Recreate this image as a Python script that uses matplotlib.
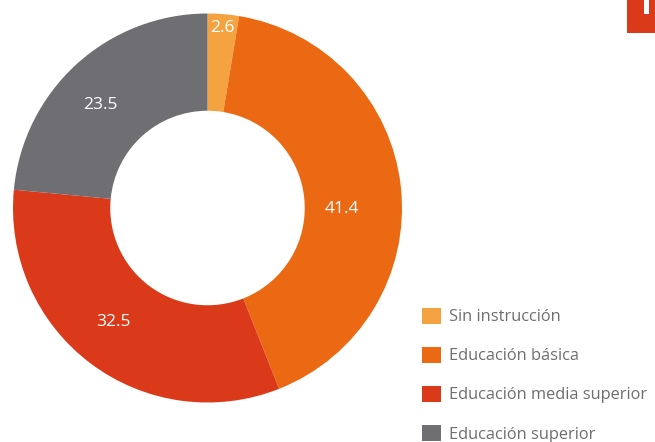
import numpy as np
import matplotlib.pyplot as plt
from matplotlib.patches import Rectangle

plt.rcParams['font.family'] = ['Open Sans', 'DejaVu Sans']

# Data
categories = ['Sin instrucción', 'Educación básica', 'Educación media superior', 'Educación superior']
values = [2.6, 41.4, 32.5, 23.5]
labels = ['2.6', '41.4', '32.5', '23.5']
colors = ['#F5A241', '#EB6912', '#DB3A1A', '#6F6E72']

# label placement (radius as fraction of outer radius, clockwise angle shift in deg)
label_radius = [0.93, 0.69, 0.76, 0.765]
label_shift = [0, 6.5, 2.8, -3.9]

W, H = 655, 442
fig = plt.figure(figsize=(W / 100, H / 100), dpi=100)

# donut axes, centre ~ (207.5, 208) px, outer radius ~194.5 px
cx, cy, r = 207.5, 208, 194.5
ax = fig.add_axes([(cx - r) / W, (H - cy - r) / H, 2 * r / W, 2 * r / H])
wedges, _ = ax.pie(values, colors=colors, startangle=90, counterclock=False,
                   radius=1.0, wedgeprops=dict(width=0.5, linewidth=0))
ax.set_xlim(-1, 1)
ax.set_ylim(-1, 1)
ax.set_aspect('equal')
ax.axis('off')

for w, lab, rr, sh in zip(wedges, labels, label_radius, label_shift):
    ang = np.deg2rad((w.theta1 + w.theta2) / 2 - sh)
    ax.text(rr * np.cos(ang), rr * np.sin(ang), lab, color='white',
            fontsize=12.5, ha='center', va='center')

# legend
handles = [Rectangle((0, 0), 1, 1, facecolor=c, edgecolor='none') for c in colors]
leg = fig.legend(handles, categories, loc='upper left',
                 bbox_to_anchor=(422 / W, (H - 307.5) / H), frameon=False,
                 fontsize=11.8, handlelength=1.17, handleheight=1.17,
                 handletextpad=0.47, labelspacing=1.3, borderpad=0,
                 borderaxespad=0)
for t in leg.get_texts():
    t.set_color('#6E6E6E')

# cropped red tab in the top right corner
fig.patches.append(Rectangle((627 / W, (H - 33) / H), 28 / W, 33 / H,
                             transform=fig.transFigure, facecolor='#DB3A1A',
                             edgecolor='none'))
fig.patches.append(Rectangle((644 / W, (H - 14) / H), 5 / W, 14 / H,
                             transform=fig.transFigure, facecolor='white',
                             edgecolor='none'))

fig.savefig('out.png', dpi=100)
